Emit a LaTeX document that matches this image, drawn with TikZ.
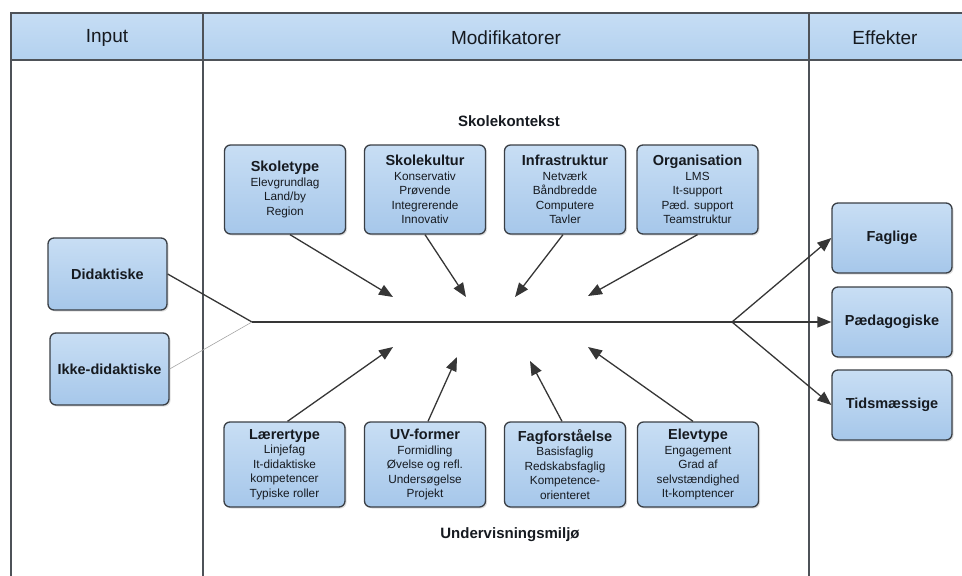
\documentclass[tikz,border=0pt]{standalone}
\usepackage{fontspec}
\setmainfont{Liberation Sans}
\usetikzlibrary{arrows.meta,shadows,calc}
\definecolor{boxtop}{HTML}{C8DEF4}
\definecolor{boxbot}{HTML}{A6C7EA}
\definecolor{hdrtop}{HTML}{C6DDF4}
\definecolor{hdrbot}{HTML}{B3D1EF}
\definecolor{edge}{HTML}{3A3F45}
\definecolor{lin}{HTML}{363636}
\definecolor{txt}{HTML}{161A20}
\begin{document}
\begin{tikzpicture}[x=1pt,y=-1pt,
  box/.style={draw=edge, line width=1.3pt, rounded corners=6pt,
    top color=boxtop, bottom color=boxbot,
    drop shadow={shadow xshift=1.5pt, shadow yshift=-1.5pt, opacity=0.25},
    align=center, inner sep=2pt, text=txt,
    font=\fontsize{11.8}{14.5}\selectfont},
  topbox/.style={box, minimum width=121pt, minimum height=89pt},
  botbox/.style={box, minimum width=121pt, minimum height=85pt},
  sidebox/.style={box, minimum width=119pt, minimum height=72pt,
    font=\fontsize{14.5}{17}\selectfont\bfseries},
  frame/.style={draw=edge!90, line width=1.5pt},
  hdrtext/.style={text=txt, font=\fontsize{19}{22}\selectfont},
  lbl/.style={text=txt, font=\fontsize{15}{18}\selectfont\bfseries},
  arr/.style={draw=lin, line width=1.3pt, -{Triangle[length=14pt,width=11pt]}},
  plain/.style={draw=lin, line width=1.3pt}
]
\useasboundingbox (0,0) rectangle (962,576);
% header band
\fill[top color=hdrtop, bottom color=hdrbot] (11,13) rectangle (962,60);
\draw[frame] (962,13) -- (11,13) -- (11,576);
\draw[frame] (11,60) -- (962,60);
\draw[frame] (203,13) -- (203,576);
\draw[frame] (809,13) -- (809,576);
\node[hdrtext] (hin) at (107,37.5) {Input};
\node[hdrtext] (hmod) at (506,37.5) {Modifikatorer};
\node[hdrtext] (heff) at (885,37.5) {Effekter};

% section labels
\node[lbl] (skk) at (509,121) {Skolekontekst};
\node[lbl] (uvm) at (510,535) {Undervisningsmiljø};

% top boxes
\node[topbox] (skoletype) at (285,189.5) {{\fontsize{14.5}{17}\selectfont\bfseries Skoletype}\\Elevgrundlag\\Land/by\\Region};
\node[topbox] (skolekultur) at (425,189.5) {{\fontsize{14.5}{17}\selectfont\bfseries Skolekultur}\\Konservativ\\Prøvende\\Integrerende\\Innovativ};
\node[topbox] (infra) at (565,189.5) {{\fontsize{14.5}{17}\selectfont\bfseries Infrastruktur}\\Netværk\\Båndbredde\\Computere\\Tavler};
\node[topbox] (org) at (697.5,189.5) {{\fontsize{14.5}{17}\selectfont\bfseries Organisation}\\LMS\\It-support\\Pæd. support\\Teamstruktur};

% bottom boxes
\node[botbox] (laerer) at (284.5,464.5) {{\fontsize{14.5}{17}\selectfont\bfseries Lærertype}\\Linjefag\\It-didaktiske\\kompetencer\\Typiske roller};
\node[botbox] (uv) at (425,464.5) {{\fontsize{14.5}{17}\selectfont\bfseries UV-former}\\Formidling\\Øvelse og refl.\\Undersøgelse\\Projekt};
\node[botbox] (fag) at (565,464.5) {{\fontsize{14.5}{17}\selectfont\bfseries Fagforståelse}\\Basisfaglig\\Redskabsfaglig\\Kompetence-\\orienteret};
\node[botbox] (elev) at (698,464.5) {{\fontsize{14.5}{17}\selectfont\bfseries Elevtype}\\Engagement\\Grad af\\selvstændighed\\It-komptencer};

% input boxes
\node[sidebox] (did) at (107.5,274) {Didaktiske};
\node[sidebox] (ikke) at (109.5,369) {Ikke-didaktiske};

% effect boxes
\node[sidebox, minimum width=120pt, minimum height=70pt] (faglige) at (892,238) {Faglige};
\node[sidebox, minimum width=120pt, minimum height=70pt] (paed) at (892,322) {Pædagogiske};
\node[sidebox, minimum width=120pt, minimum height=70pt] (tids) at (892,405) {Tidsmæssige};

% junctions and arrow targets
\coordinate (jl) at (252,322);
\coordinate (jr) at (732,322);
\coordinate (a1) at (393,297);
\coordinate (a2) at (466,297);
\coordinate (a3) at (515,297);
\coordinate (a4) at (588,296);
\coordinate (b1) at (393,347);
\coordinate (b2) at (457,357);
\coordinate (b3) at (530,361);
\coordinate (b4) at (588,347);

\draw[plain] (did.east) -- (jl);
\draw[draw=gray!70, line width=0.6pt] (ikke.east) -- (jl);
\draw[plain] (jl) -- (jr);
\draw[arr] (jr) -- (faglige.west);
\draw[arr] (jr) -- (paed.west);
\draw[arr] (jr) -- (tids.west);

\draw[arr] ([xshift=5pt]skoletype.south) -- (a1);
\draw[arr] (skolekultur.south) -- (a2);
\draw[arr] ([xshift=-2pt]infra.south) -- (a3);
\draw[arr] (org.south) -- (a4);
\draw[arr] ([xshift=3pt]laerer.north) -- (b1);
\draw[arr] ([xshift=3pt]uv.north) -- (b2);
\draw[arr] ([xshift=-3pt]fag.north) -- (b3);
\draw[arr] ([xshift=-5pt]elev.north) -- (b4);
\end{tikzpicture}
\end{document}
